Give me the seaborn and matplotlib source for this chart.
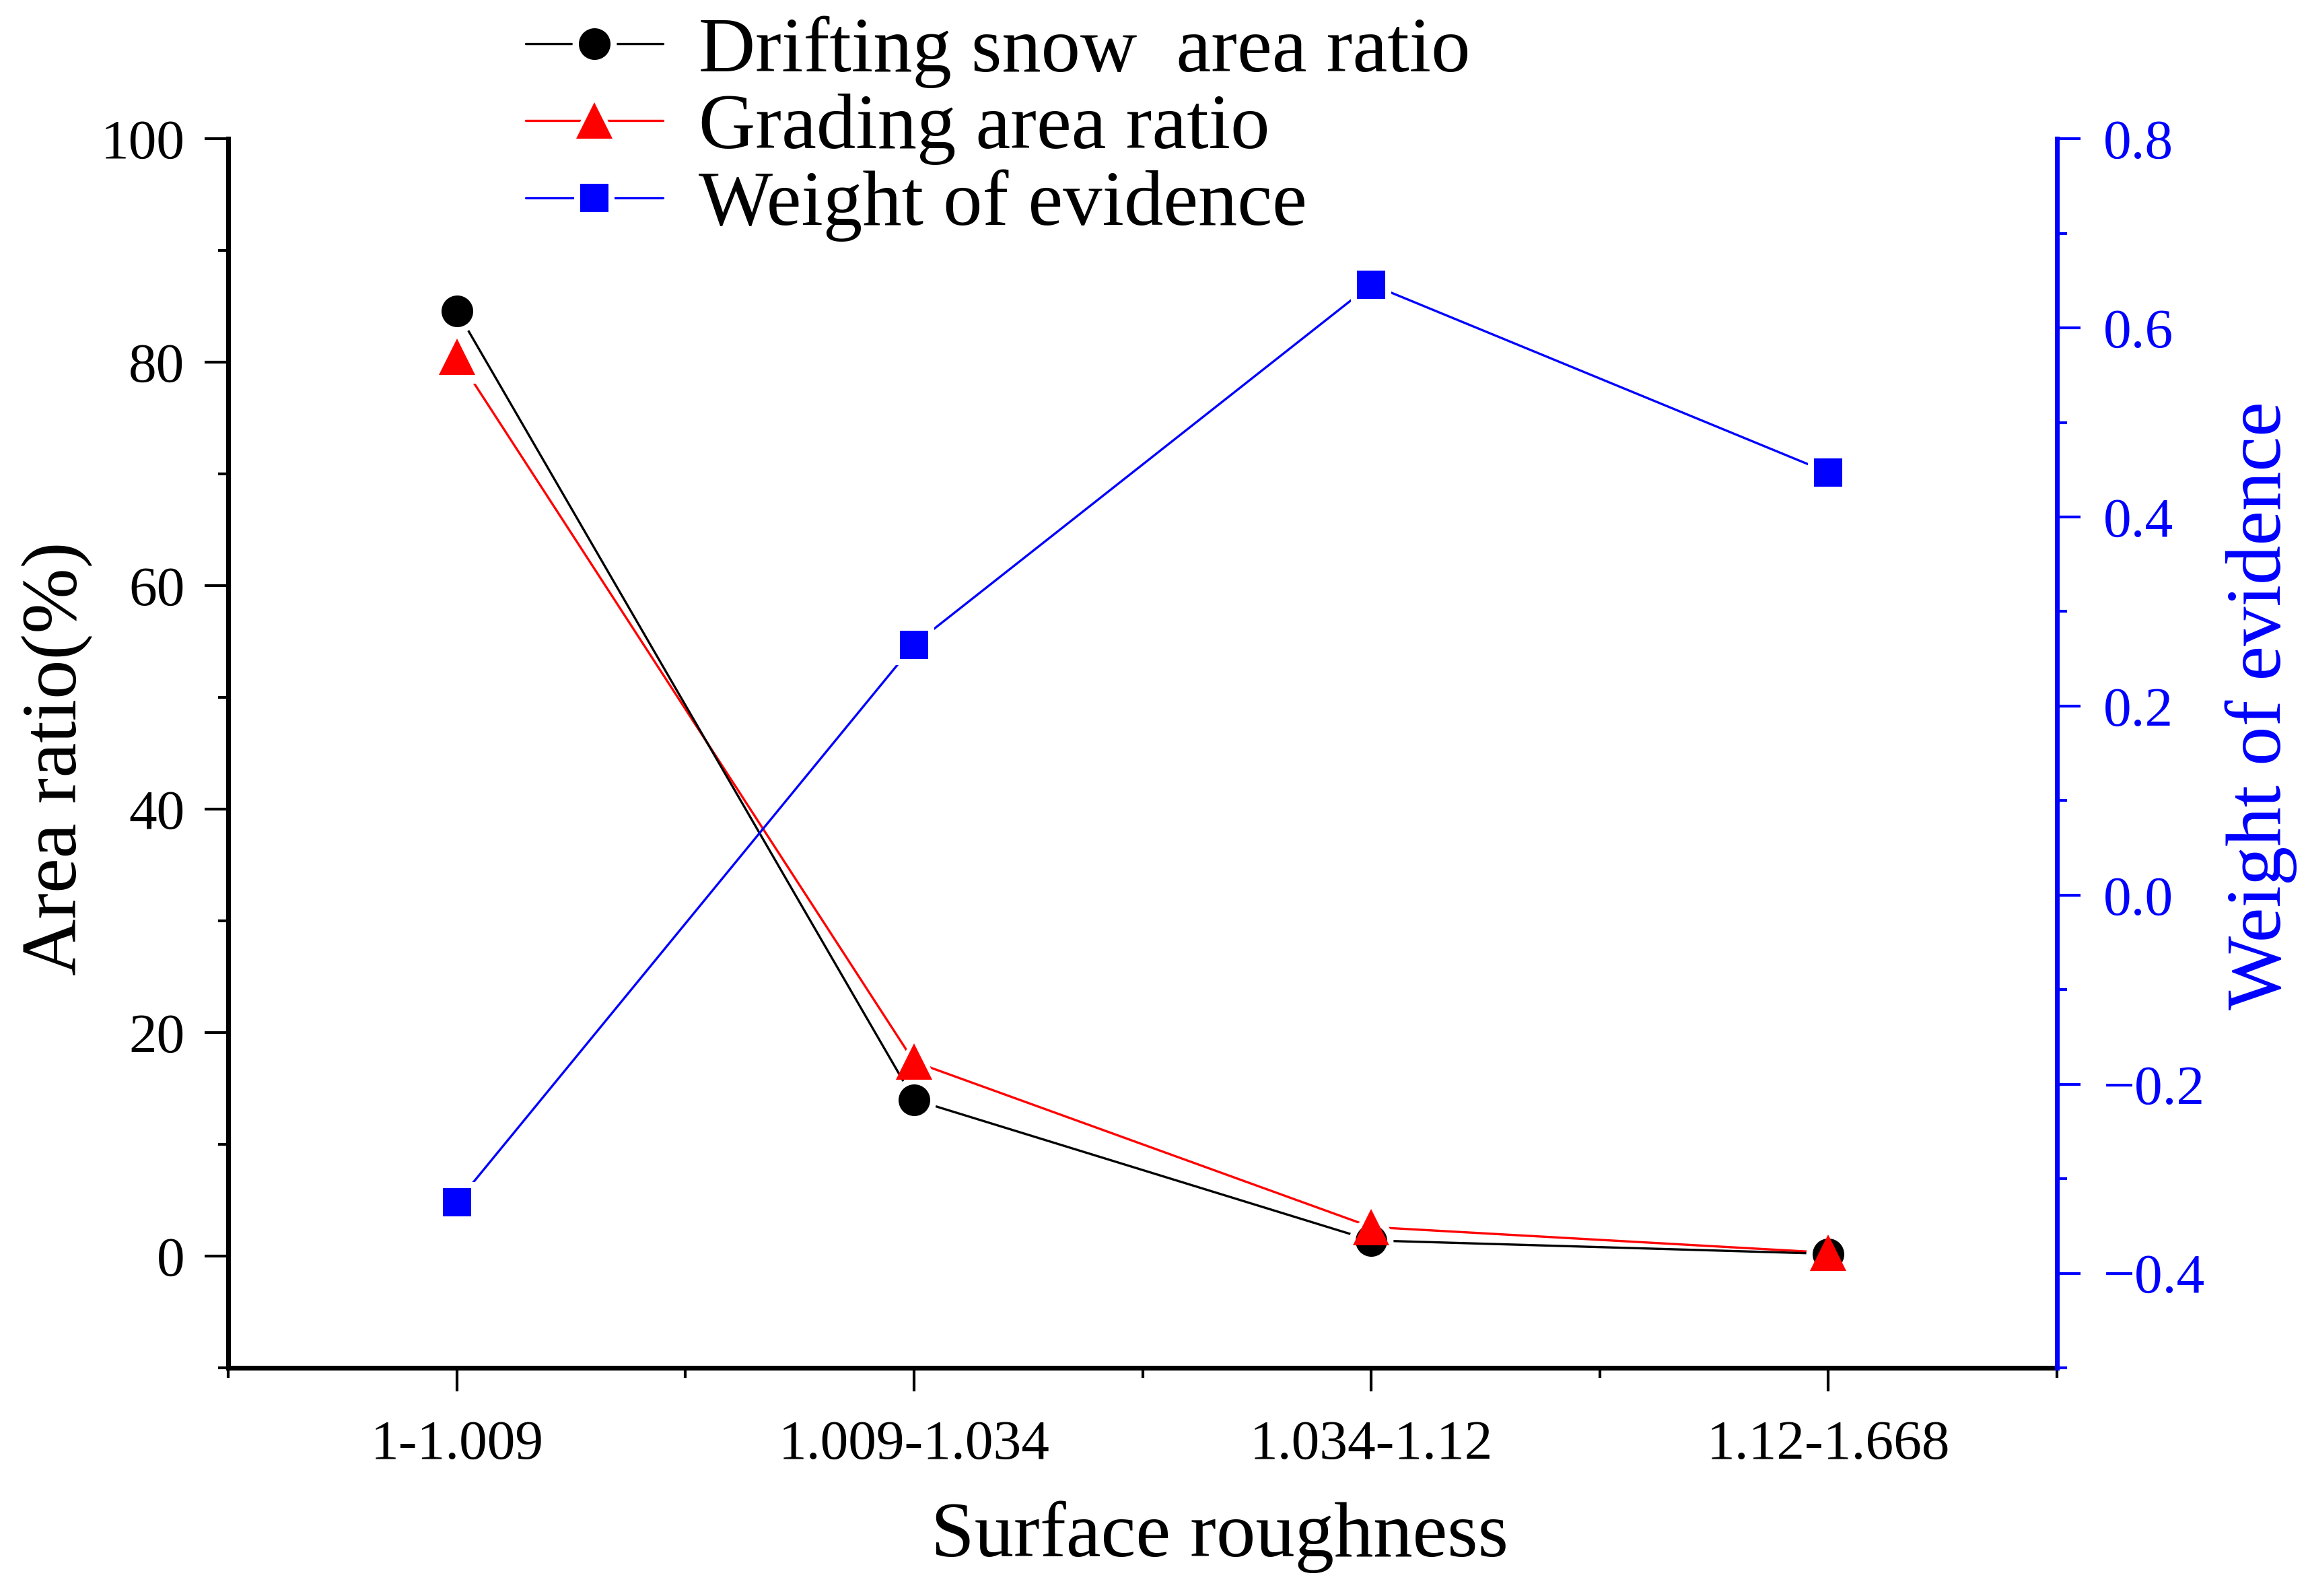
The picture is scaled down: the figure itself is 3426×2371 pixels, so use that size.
import numpy as np
import seaborn as sns
import matplotlib
matplotlib.use('Agg')
import matplotlib.pyplot as plt
from matplotlib.lines import Line2D
from matplotlib.legend_handler import HandlerTuple
from matplotlib.ticker import MultipleLocator, FuncFormatter

# data
categories = ['1-1.009', '1.009-1.034', '1.034-1.12', '1.12-1.668']
drift_ratio = [84.6, 14.0, 1.4, 0.2]      # Drifting snow area ratio (%)
grading_ratio = [80.5, 17.4, 2.6, 0.3]    # Grading area ratio (%)
woe = [-0.325, 0.265, 0.646, 0.447]       # Weight of evidence

labels = ['Drifting snow  area ratio', 'Grading area ratio', 'Weight of evidence']

sns.set_style('ticks', rc={'text.color': 'black', 'axes.labelcolor': 'black',
                           'xtick.color': 'black', 'ytick.color': 'black',
                           'axes.edgecolor': 'black'})
plt.rcParams['font.family'] = ['Liberation Serif', 'DejaVu Serif']

fig = plt.figure(figsize=(3426 / 300, 2371 / 300), dpi=300)
ax = fig.add_axes([0.099, 0.143, 0.793, 0.770])
ax2 = ax.twinx()

x = np.arange(len(categories))
LW = 0.8


def draw(axis, y, color, marker, ms, gap, zl, zm):
    # line with white marker "holes" so the line stops short of the markers (Origin style)
    sns.lineplot(x=x, y=y, ax=axis, color=color, lw=LW, marker=marker,
                 ms=ms + gap, mfc='white', mec='white', mew=0, zorder=zl)
    sns.lineplot(x=x, y=y, ax=axis, color=color, linestyle='', marker=marker,
                 ms=ms, mfc=color, mec=color, mew=0, zorder=zm)
    h1 = Line2D([], [], color=color, lw=LW, marker=marker, ms=ms + gap,
                mfc='white', mec='white', mew=0)
    h2 = Line2D([], [], ls='', marker=marker, ms=ms, mfc=color, mec=color, mew=0)
    return (h1, h2)


h_grad = draw(ax, grading_ratio, 'red', '^', 13.0, 6.0, 2.0, 3.1)
h_drift = draw(ax, drift_ratio, 'black', 'o', 11.3, 4.5, 2.05, 3.0)
h_woe = draw(ax2, woe, 'blue', 's', 10.1, 4.5, 2.0, 3.0)

# left axis
ax.set_xlim(-0.5, 3.5)
ax.set_xticks(x)
ax.set_xticklabels(categories)
ax.xaxis.set_minor_locator(MultipleLocator(0.5))
ax.set_ylim(-10, 100)
ax.yaxis.set_major_locator(MultipleLocator(20))
ax.yaxis.set_minor_locator(MultipleLocator(10))

for s in ['top', 'right']:
    ax.spines[s].set_visible(False)
for s in ['left', 'bottom']:
    ax.spines[s].set_linewidth(1.7)
    ax.spines[s].set_color('black')

ax.tick_params(axis='both', which='major', direction='out', length=8.5, width=1.0,
               labelsize=20, color='black', labelcolor='black')
ax.tick_params(axis='both', which='minor', direction='out', length=3.5, width=1.0,
               color='black')
ax.tick_params(axis='y', which='major', pad=7)
ax.tick_params(axis='x', which='major', pad=10)

ax.set_xlabel('Surface roughness', fontsize=28, va='center', color='black')
ax.xaxis.set_label_coords(0.542, -0.1375)
ax.set_ylabel('Area ratio(%)', fontsize=28, va='center', color='black')
ax.yaxis.set_label_coords(-0.094, 0.496)

# right axis
ax2.set_ylim(-0.5, 0.8)
ax2.yaxis.set_major_locator(MultipleLocator(0.2))
ax2.yaxis.set_minor_locator(MultipleLocator(0.1))
ax2.yaxis.set_major_formatter(FuncFormatter(
    lambda v, _: f'{round(v, 1) + 0:.1f}'.replace('-', '\u2212')))
for s in ['top', 'left', 'bottom']:
    ax2.spines[s].set_visible(False)
ax2.spines['right'].set_color('blue')
ax2.spines['right'].set_linewidth(1.7)
ax2.tick_params(axis='y', which='major', direction='out', length=8.5, width=1.0,
                labelsize=20, colors='blue', pad=8)
ax2.tick_params(axis='y', which='minor', direction='out', length=3.5, width=1.0,
                colors='blue')
ax2.set_ylabel('Weight of evidence', fontsize=28, color='blue', va='center',
               rotation=90)
ax2.yaxis.set_label_coords(1.1116, 0.539)

fig.legend([h_drift, h_grad, h_woe], labels, loc='upper left',
           bbox_to_anchor=(0.228, 0.990), frameon=False, fontsize=28,
           handlelength=1.75, handletextpad=0.45, labelspacing=0.06,
           borderpad=0, borderaxespad=0, labelcolor='black',
           handler_map={tuple: HandlerTuple(ndivide=1)})

fig.savefig('out.png', dpi=300)
